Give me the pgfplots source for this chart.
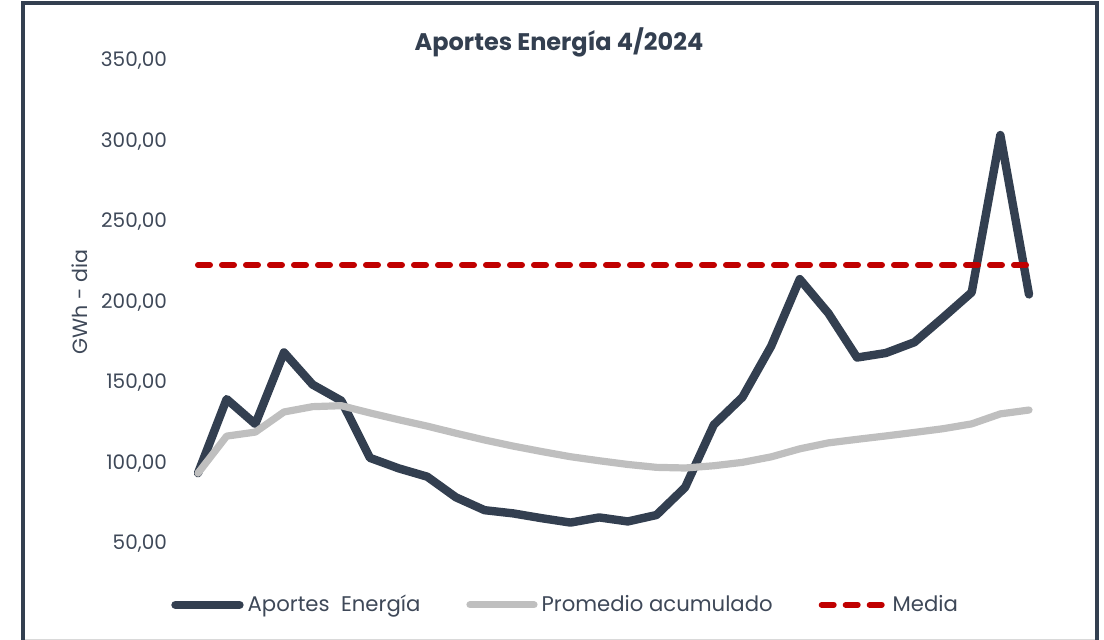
\documentclass[border=0pt]{standalone}
\usepackage{fontspec}
\setmainfont{Poppins}
\usepackage{pgfplots}
\pgfplotsset{compat=1.18}
\definecolor{darkline}{HTML}{333F50}
\definecolor{grayline}{HTML}{BFBFBF}
\definecolor{redline}{HTML}{C00000}
\definecolor{txt}{HTML}{3E4858}
\begin{document}
\begin{tikzpicture}
\useasboundingbox (0pt,0pt) rectangle (552pt,320pt);
\draw[line width=0.5pt, black!15] (11.5pt,0.4pt) -- (548.5pt,0.4pt);
\draw[darkline, line width=1.6pt] (11.5pt,-5pt) -- (11.5pt,318.5pt) -- (548.5pt,318.5pt) -- (548.5pt,-5pt);
\node[font=\bfseries\fontsize{12}{14}\selectfont, text=darkline] at (279.5pt,299pt) {Aportes Energía 4/2024};
\node[font=\fontsize{10.3}{12}\selectfont, text=txt, rotate=90] at (40pt,169pt) {GWh - dia};
\begin{axis}[
  at={(99pt,48pt)}, anchor=south west,
  scale only axis, width=415.5pt, height=241.5pt,
  xmin=1, xmax=30, ymin=50, ymax=350,
  clip=false,
  axis line style={draw=none}, tick style={draw=none},
  xtick=\empty,
  ytick={50,100,...,350},
  /pgf/number format/fixed, /pgf/number format/fixed zerofill, /pgf/number format/precision=2,
  /pgf/number format/use comma, /pgf/number format/1000 sep={}, /pgf/number format/assume math mode=true,
  yticklabel style={font=\fontsize{10}{12}\selectfont, text=txt, anchor=east, xshift=-12pt},
  legend columns=3,
  legend style={at={(axis description cs:0.4436,-0.126)}, anchor=center, draw=none, fill=none,
    font=\fontsize{10.6}{12}\selectfont, text=txt, inner xsep=0pt,
    /tikz/every even column/.append style={column sep=21pt}},
  legend image code/.code={\draw[#1] (0pt,0pt) -- (32pt,0pt);},
  every axis plot/.append style={line join=round, line cap=round},
]
\addplot[darkline, line width=4.2pt] coordinates {
(1,94) (2,140) (3,124.5) (4,169) (5,149) (6,139) (7,103.5) (8,97) (9,91.8) (10,79)
(11,71) (12,69) (13,66) (14,63.3) (15,66.5) (16,64) (17,68) (18,85.2) (19,124) (20,141.2)
(21,172.8) (22,214.5) (23,193.3) (24,165.8) (25,168.6) (26,175.3) (27,190.6) (28,206.3) (29,304) (30,205)
};
\addlegendentry{Aportes~ Energía}
\addplot[grayline, line width=3.6pt] coordinates {
(1,94) (2,117) (3,119.5) (4,132) (5,135.3) (6,135.9) (7,131.4) (8,127.2) (9,123.2) (10,118.8)
(11,114.6) (12,110.8) (13,107.4) (14,104.2) (15,101.7) (16,99.4) (17,97.6) (18,97.2) (19,98.6) (20,100.7)
(21,104.1) (22,109.1) (23,112.8) (24,115.0) (25,117.1) (26,119.3) (27,121.6) (28,124.6) (29,130.8) (30,133.2)
};
\addlegendentry{Promedio acumulado}
\addplot[redline, line width=3pt, dash pattern=on 6pt off 6pt] coordinates {(1,223.3) (30,223.3)};
\addlegendentry{Media}
\end{axis}
\end{tikzpicture}
\end{document}
